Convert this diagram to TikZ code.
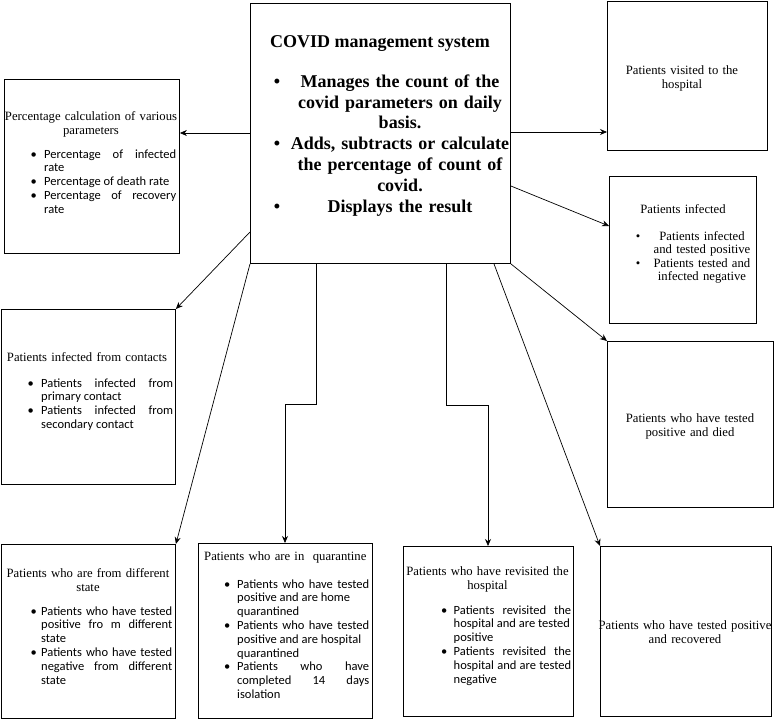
\documentclass[tikz,border=0pt]{standalone}
\usepackage{fontspec}
\setmainfont{Liberation Serif}
\newfontfamily\calfont{Carlito}
\usetikzlibrary{arrows.meta}
\newlength\bind
\newcommand\bitem[1]{\noindent\hangindent=\bind\hangafter=1\relax\makebox[\bind][l]{\textbullet}#1\par}
\tikzset{
  box/.style={draw=black, line width=0.9pt, anchor=north west, inner sep=0pt},
  conn/.style={-{Stealth[length=7pt,width=6pt]}, line width=0.7pt},
  ttl/.style={font=\fontsize{12.7}{14}\selectfont, align=center, text width=200pt, inner sep=0pt, anchor=base},
  lst/.style={font=\calfont\fontsize{12.5}{13.8}\selectfont, align=justify, inner sep=0pt, anchor=base west},
  big/.style={font=\bfseries\fontsize{18}{20.8}\selectfont, inner sep=0pt, anchor=base},
  sml/.style={font=\fontsize{12.7}{13.5}\selectfont, inner sep=0pt, anchor=base}
}
\begin{document}
\begin{tikzpicture}[x=1pt,y=-1pt]
\useasboundingbox (0,0) rectangle (774,720);
% boxes
\node[box, minimum width=260pt, minimum height=260pt] (c) at (250,3) {};
\node[box, minimum width=175pt, minimum height=174pt] (p) at (4,79) {};
\node[box, minimum width=174pt, minimum height=175pt] (cc) at (1,309) {};
\node[box, minimum width=174pt, minimum height=174pt] (b1) at (1,544) {};
\node[box, minimum width=174pt, minimum height=175pt] (b2) at (198,543) {};
\node[box, minimum width=170pt, minimum height=170pt] (b3) at (403,546) {};
\node[box, minimum width=171pt, minimum height=170pt] (b4) at (600,546) {};
\node[box, minimum width=160pt, minimum height=149pt] (v) at (607,1) {};
\node[box, minimum width=147pt, minimum height=147pt] (i) at (609,176) {};
\node[box, minimum width=166pt, minimum height=166pt] (d) at (607,341) {};
% centre box text
\node[big] (ctt) at (380,47) {COVID management system};
\node[big, text width=230pt, align=center] (ctx) at (400,87.3) {Manages the count of the\\covid parameters on daily\\basis.\\Adds, subtracts or calculate\\the percentage of count of\\covid.\\Displays the result};
\node[big] (cb1) at (277,87.3) {\textbullet};
\node[big] (cb2) at (277,149.8) {\textbullet};
\node[big] (cb3) at (277,212.3) {\textbullet};
% percentage box
\node[ttl] (pt) at (91,120) {Percentage calculation of various\\parameters};
\node[lst, text width=145.5pt] (pl) at (30.5,158) {\setlength\bind{13.5pt}%
\bitem{Percentage of infected\linebreak rate}
\bitem{Percentage of death rate}
\bitem{Percentage of recovery\linebreak rate}};
% contacts box
\node[ttl] (ct) at (87,361) {Patients infected from contacts};
\node[lst, text width=145.5pt] (cl) at (27.5,387) {\setlength\bind{13.5pt}%
\bitem{Patients infected from\linebreak primary contact}
\bitem{Patients infected from\linebreak secondary contact}};
% different state
\node[ttl] (b1t) at (88,577) {Patients who are from different\\state};
\node[lst, text width=141.5pt] (b1l) at (30.5,615) {\setlength\bind{10.5pt}%
\bitem{Patients who have tested\linebreak positive fro m different\linebreak state}
\bitem{Patients who have tested\linebreak negative from different\linebreak state}};
% quarantine
\node[ttl, anchor=base west, align=left] (b2t) at (204,560) {Patients who are in\ \ quarantine};
\node[lst, text width=145pt] (b2l) at (224,588) {\setlength\bind{13pt}%
\bitem{Patients who have tested\linebreak positive and are home\newline quarantined}
\bitem{Patients who have tested\linebreak positive and are hospital\newline quarantined}
\bitem{Patients who have\linebreak completed 14 days\linebreak isolation}};
% revisited
\node[ttl] (b3t) at (487.5,575) {Patients who have revisited the\\hospital};
\node[lst, text width=130pt] (b3l) at (441,614) {\setlength\bind{12.5pt}%
\bitem{Patients revisited the\linebreak hospital and are tested\newline positive}
\bitem{Patients revisited the\linebreak hospital and are tested\linebreak negative}};
% recovered
\node[ttl] (b4t) at (685,629) {Patients who have tested positive\\and recovered};
% visited
\node[ttl] (vt) at (682,74) {Patients visited to the\\hospital};
% infected
\node[ttl] (it) at (683,213) {Patients infected};
\node[sml, text width=120pt, align=center] (il) at (702,240) {Patients infected\\and tested positive\\Patients tested and\\infected negative};
\node[sml] (ib1) at (638,240) {\textbullet};
\node[sml] (ib2) at (638,267) {\textbullet};
% died
\node[ttl] (dt) at (690,422) {Patients who have tested\\positive and died};
% connectors
\draw[conn] ([yshift=-130pt]c.north west) -- ([yshift=-54pt]p.north east);
\draw[conn] ([yshift=-129pt]c.north east) -- ([yshift=-131pt]v.north west);
\draw[conn] ([yshift=-183pt]c.north east) -- ([yshift=-50pt]i.north west);
\draw[conn] ([yshift=-229pt]c.north west) -- (cc.north east);
\draw[conn] (c.south east) -- (d.north west);
\draw[conn] (c.south west) -- (b1.north east);
\draw[conn] ([xshift=66pt]c.south west) -- ++(0,140) -| ([xshift=87pt]b2.north west);
\draw[conn] ([xshift=196pt]c.south west) -- ++(0,141) -| ([xshift=85pt]b3.north west);
\draw[conn] ([xshift=244pt]c.south west) -- (b4.north west);
\end{tikzpicture}
\end{document}
